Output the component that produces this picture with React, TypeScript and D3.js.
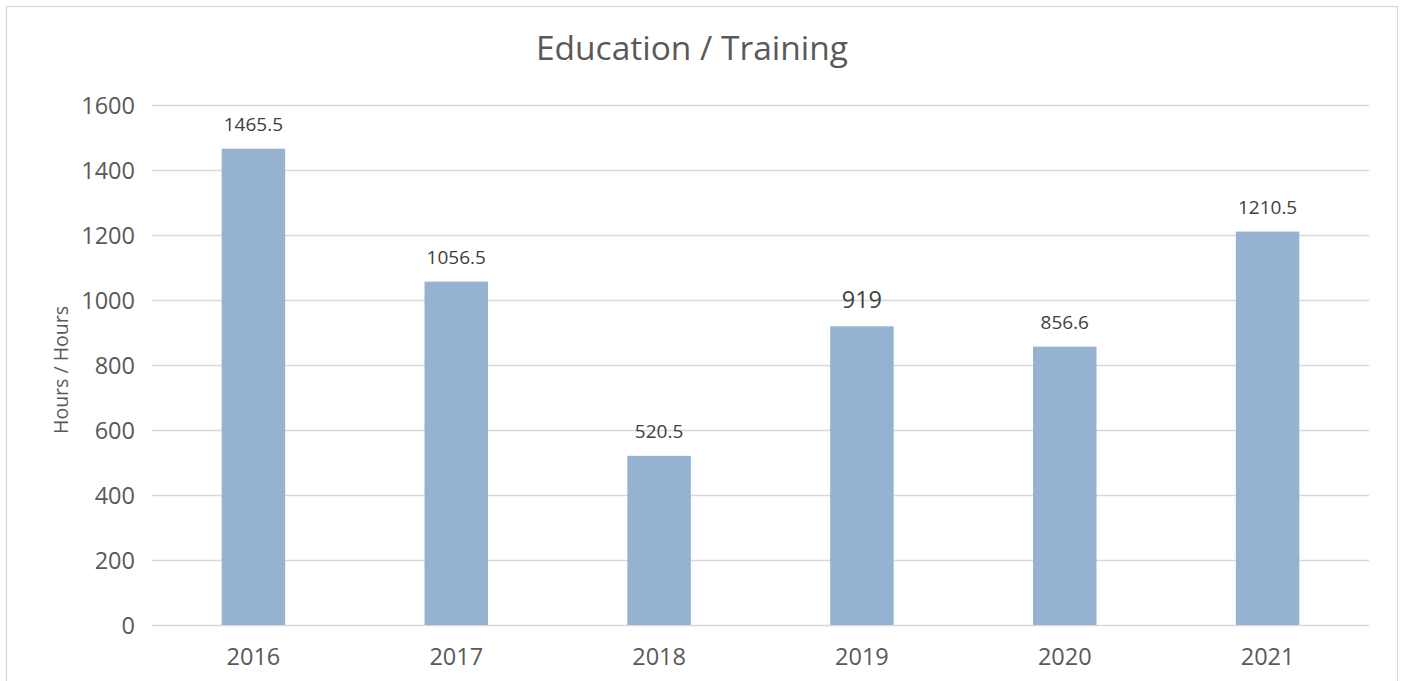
import React from "react";
import * as d3 from "d3";

const categories = ["2016", "2017", "2018", "2019", "2020", "2021"];
const values = [1465.5, 1056.5, 520.5, 919, 856.6, 1210.5];
const labels = ["1465.5", "1056.5", "520.5", "919", "856.6", "1210.5"];
const yTicks = [0, 200, 400, 600, 800, 1000, 1200, 1400, 1600];
const title = "Education / Training";
const yTitle = "Hours / Hours";

const W = 1404;
const H = 681;
const left = 152;
const right = 1369;
const top = 105;
const bottom = 625;
const FONT = "'Open Sans', 'Noto Sans', sans-serif";
const TEXT = "#595959";

export default function App() {
  const x = d3.scaleBand<string>().domain(categories).range([left, right]).paddingInner(0.687).paddingOuter(0.3435);
  const y = d3.scaleLinear().domain([0, 1600]).range([bottom, top]);
  return (
    <svg width={W} height={H} style={{ position: "absolute", left: 0, top: 0, background: "#fff" }}>
      <rect x={6.5} y={6.5} width={1391} height={690} fill="#fff" stroke="#d9d9d9" strokeWidth={1.3} />
      <text x={692} y={51} textAnchor="middle" dominantBaseline="middle" fontFamily={FONT} fontSize={33.5} fill={TEXT}>
        {title}
      </text>
      {yTicks.map((t) => (
        <g key={t}>
          <line x1={left} x2={right} y1={Math.round(y(t)) + 0.5} y2={Math.round(y(t)) + 0.5} stroke="#d9d9d9" strokeWidth={1.3} />
          <text x={135} y={y(t)} textAnchor="end" dominantBaseline="central" fontFamily={FONT} fontSize={23.5} fill={TEXT}>
            {t}
          </text>
        </g>
      ))}
      <text
        transform={`translate(60,${(top + bottom) / 2 + 5}) rotate(-90)`}
        textAnchor="middle"
        dominantBaseline="central"
        fontFamily={FONT}
        fontSize={19.5}
        fill={TEXT}
      >
        {yTitle}
      </text>
      {categories.map((c, i) => {
        const bx = x(c) as number;
        const bw = x.bandwidth();
        const isBig = labels[i] === "919";
        return (
          <g key={c}>
            <rect x={bx} y={y(values[i])} width={bw} height={bottom - y(values[i])} fill="#95b3d0" />
            <text
              x={bx + bw / 2}
              y={y(values[i]) - 18}
              textAnchor="middle"
              fontFamily={FONT}
              fontSize={isBig ? 23.5 : 19}
              fill="#404040"
            >
              {labels[i]}
            </text>
            <text x={bx + bw / 2} y={656} textAnchor="middle" dominantBaseline="central" fontFamily={FONT} fontSize={23.5} fill={TEXT}>
              {c}
            </text>
          </g>
        );
      })}
    </svg>
  );
}
